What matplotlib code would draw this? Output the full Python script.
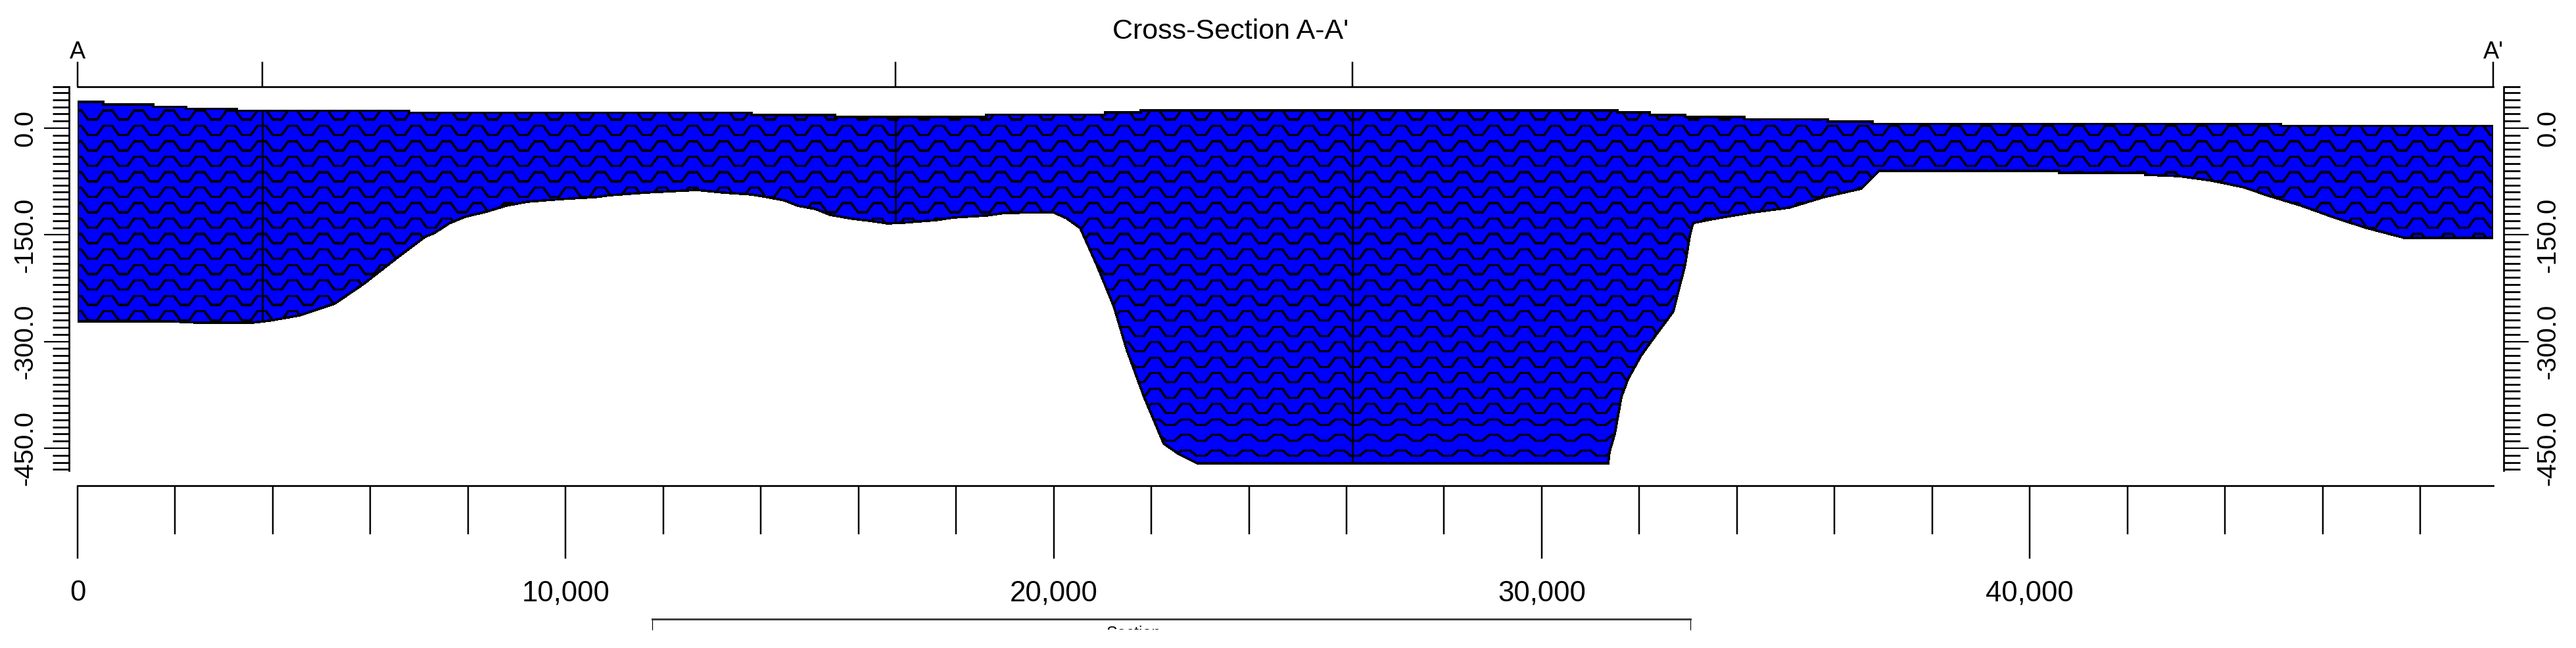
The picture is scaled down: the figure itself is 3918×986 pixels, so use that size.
import matplotlib
matplotlib.use('Agg')
import matplotlib.pyplot as plt
import numpy as np
from matplotlib.patches import Polygon

plt.rcParams['font.family'] = ['Liberation Sans', 'DejaVu Sans']

# top surface, stepped: one level between each pair of breaks
top_breaks = [0, 526, 1550, 2223, 3260, 6790, 13809, 15519, 18617, 21056, 21784,
              31552, 32213, 32939, 34152, 35863, 36778, 45145, 49495]
top_levels = [37.0, 33.3, 30.2, 27.1, 24.4, 21.7, 18.5, 15.7, 19.1, 22.2, 24.9,
              22.2, 18.5, 15.7, 12.5, 9.2, 6.0, 3.2]

# bottom surface
bottom_x = [0, 1913, 2452, 3584, 3933, 4540, 5268, 5861, 6534, 7127, 7302, 7611, 7935,
            8380, 8783, 9215, 9888, 10602, 10912, 11640, 12691, 13230, 13809, 14132,
            14483, 14752, 15116, 15425, 15884, 16234, 16597, 16908, 17581, 17944,
            18617, 18996, 19993, 20262, 20545, 20882, 21232, 21501, 21852, 22255,
            22566, 22943, 31363, 31391, 31498, 31633, 31767, 32036, 32346, 32697,
            32832, 32939, 33033, 33101, 33492, 34246, 35067, 35782, 36550, 36913,
            40604, 40604, 42369, 42369, 43070, 43744, 44377, 44889, 45563, 46277,
            46910, 47678, 49495]
bottom_y = [-271.7, -271.7, -273.5, -273.5, -270.7, -263.4, -246.7, -219, -183, -152.5,
            -147.8, -134, -124.7, -117.4, -109, -103.5, -99.8, -97, -94.3, -90.6,
            -86.9, -90.6, -93.3, -97, -101.6, -109, -113.7, -122, -127.5, -130.3,
            -134, -133, -129.4, -125.7, -122.9, -119.2, -118.3, -126.6, -140.5,
            -192.2, -250.4, -312.3, -377.9, -443.5, -458.3, -471.3, -471.3, -454.6,
            -429.7, -377.9, -353, -319.7, -290.1, -257.8, -220.8, -192.2, -151.5,
            -133.5, -128, -119.2, -111.8, -97, -85, -60, -60, -62.8, -62.8, -65.6,
            -67.5, -74, -83, -95, -109, -126.6, -140.5, -154.3, -154.3]

section_x = [0, 3786, 16757, 26123, 49495]
section_labels = ['A', '', '', '', "A'"]
x_major = [0, 10000, 20000, 30000, 40000]
x_major_labels = ['0', '10,000', '20,000', '30,000', '40,000']
x_minor = list(range(2000, 50000, 2000))
y_major = [0, -150, -300, -450]
y_major_labels = ['0.0', '-150.0', '-300.0', '-450.0']
y_minor = [58] + list(range(50, -490, -10))

W, H = 3918, 986
px = 72 / 100  # points per pixel at dpi 100

fig = plt.figure(figsize=(W / 100, H / 100), dpi=100, facecolor='white')
ax = fig.add_axes([118 / W, 1 - 716 / H, 3674 / W, 584 / H])
ax.set_xlim(0, 49495)
ax.set_ylim(-481.4, 58.2)
ax.patch.set_visible(False)

# outline
xs = np.repeat(top_breaks, 2)[1:-1]
ys = np.repeat(top_levels, 2)
outline = np.vstack([np.column_stack([xs, ys]),
                     np.column_stack([bottom_x, bottom_y])[::-1]])
poly = Polygon(outline, closed=True, facecolor='#0000FF', edgecolor='black',
               linewidth=2.6 * px, antialiased=False, zorder=2, joinstyle='miter')
ax.add_patch(poly)

# wavy fill pattern
flat, slope = 178, 137.5
period = 2 * flat + 2 * slope
amps = [12.9] * 20 + [7.9] * 3
for k, amp in enumerate(amps):
    crest = 24.9 - k * 21.72
    starts = np.arange(620 - flat / 2 - period, 49495 + period, period)
    wx = np.column_stack([starts, starts + flat, starts + flat + slope,
                          starts + 2 * flat + slope]).ravel()
    wy = np.tile([crest, crest, crest - amp, crest - amp], len(starts))
    line, = ax.plot(wx, wy, color='black', lw=2.2 * px, antialiased=False, zorder=3,
                    solid_joinstyle='miter')
    line.set_clip_path(poly)

# section lines
vl = ax.vlines(section_x[1:-1], -481.4, 58.2, color='black', lw=2.8 * px, zorder=4)
vl.set_clip_path(poly)

# x axis below
ax.spines['top'].set_visible(False)
ax.spines['bottom'].set_position(('outward', 23 * px))
ax.spines['bottom'].set_linewidth(2.7 * px)
ax.set_xticks(x_major, labels=x_major_labels)
ax.set_xticks(x_minor, minor=True)
ax.tick_params(axis='x', which='major', length=111 * px, width=2.5 * px, pad=32 * px,
               labelsize=31.5)
ax.tick_params(axis='x', which='minor', length=74 * px, width=2.5 * px)

# section axis on top
sec = ax.secondary_xaxis('top')
sec.spines['top'].set_linewidth(2.7 * px)
sec.set_xticks(section_x, labels=section_labels)
sec.tick_params(axis='x', length=38 * px, width=2.5 * px, pad=-3 * px, labelsize=26)

# elevation axes, both sides
ax.spines['left'].set_position(('outward', 13 * px))
ax.spines['right'].set_position(('outward', 16 * px))
ax.spines['left'].set_linewidth(2.7 * px)
ax.spines['right'].set_linewidth(2.7 * px)
ax.set_yticks(y_major, labels=y_major_labels)
ax.set_yticks(y_minor, minor=True)
ax.tick_params(axis='y', which='major', left=True, right=True, labelleft=True,
               labelright=True, length=38 * px, width=2.2 * px, labelsize=29,
               labelrotation=90, pad=10 * px)
ax.tick_params(axis='y', which='minor', left=True, right=True, length=25 * px,
               width=2.8 * px)
for lab in ax.get_yticklabels():
    lab.set_verticalalignment('center')

fig.text(1872 / W, 1 - 59 / H, "Cross-Section A-A'", ha='center', va='baseline',
         fontsize=31)

# legend box, cut off by the image
leg = fig.add_axes([992 / W, 1 - 958 / H, 1579 / W, 16 / H])
leg.set_xticks([])
leg.set_yticks([])
leg.spines['bottom'].set_visible(False)
leg.spines['top'].set_linewidth(3 * px)
leg.spines['top'].set_color('#404040')
leg.spines['left'].set_linewidth(1.2 * px)
leg.spines['right'].set_linewidth(1.2 * px)
leg.text(0.464, 0.375, 'Section', ha='center', va='top', fontsize=18,
         transform=leg.transAxes, clip_on=True)

fig.savefig('out.png', dpi=100)
